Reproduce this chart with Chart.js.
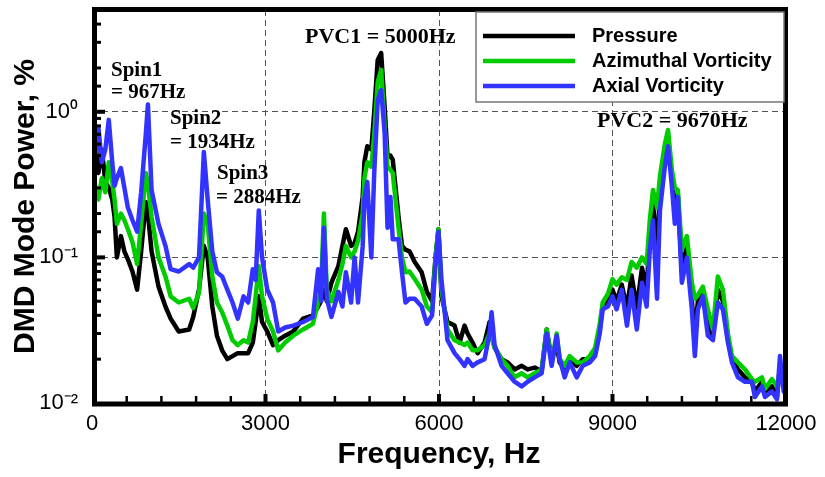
<!DOCTYPE html>
<html><head><meta charset="utf-8">
<script src="https://cdn.jsdelivr.net/npm/chart.js@4.4.1/dist/chart.umd.min.js"></script>
<style>html,body{margin:0;padding:0;background:#fff;}canvas{display:block;}</style>
</head><body>
<canvas id="c" width="825" height="477"></canvas>
<script>
const frequencyHz = [10,60,110,170,230,290,350,390,430,500,
 560,620,700,780,850,930,967,1030,1150,1270,
 1360,1500,1680,1750,1850,1934,2000,2080,2160,2250,
 2340,2430,2520,2620,2700,2780,2830,2884,2940,3030,
 3130,3220,3340,3480,3650,3820,3910,3960,4010,4060,
 4140,4260,4330,4390,4480,4540,4600,4680,4710,4760,
 4830,4880,4940,5000,5060,5110,5160,5200,5300,5360,
 5420,5490,5580,5700,5790,5880,5940,5990,6043,6147,
 6269,6355,6442,6494,6580,6667,6788,6874,6909,6961,
 7082,7186,7307,7429,7532,7654,7775,7861,7948,8035,
 8087,8173,8260,8381,8485,8606,8700,8780,8830,8920,
 9000,9070,9160,9250,9330,9420,9510,9590,9645,9700,
 9770,9820,9905,9960,10026,10078,10130,10199,10286,10372,
 10424,10476,10563,10649,10736,10822,10909,10996,11065,11169,
 11290,11411,11463,11584,11636,11757,11844,11896,11960];

const pressurePower = [0.45,0.62,0.38,0.55,0.33,0.3,0.25,0.19,0.1,0.14,
 0.11,0.097,0.08,0.06,0.11,0.24,0.2,0.11,0.063,0.046,
 0.038,0.031,0.032,0.039,0.06,0.12,0.1,0.046,0.029,0.023,
 0.02,0.021,0.022,0.022,0.022,0.026,0.036,0.054,0.036,0.031,
 0.025,0.027,0.029,0.031,0.038,0.04,0.046,0.05,0.06,0.05,
 0.067,0.087,0.12,0.156,0.12,0.125,0.15,0.26,0.45,0.58,
 0.55,1.0,2.27,2.53,1.08,0.49,0.5,0.47,0.19,0.12,
 0.113,0.11,0.093,0.079,0.058,0.05,0.1,0.156,0.054,0.036,
 0.034,0.026,0.034,0.03,0.026,0.022,0.026,0.036,0.03,0.024,
 0.02,0.019,0.017,0.018,0.017,0.0175,0.0165,0.032,0.02,0.025,
 0.019,0.017,0.02,0.018,0.02,0.02,0.022,0.032,0.046,0.05,
 0.06,0.05,0.065,0.045,0.075,0.045,0.085,0.06,0.14,0.24,
 0.1,0.3,0.52,0.68,0.35,0.22,0.27,0.08,0.12,0.05,
 0.03,0.05,0.058,0.035,0.029,0.06,0.05,0.028,0.02,0.017,
 0.015,0.014,0.012,0.014,0.012,0.013,0.011,0.018,0.013];

const azimuthalVorticityPower = [0.42,0.3,0.25,0.35,0.28,0.45,0.33,0.25,0.17,0.2,
 0.18,0.156,0.127,0.09,0.17,0.38,0.32,0.19,0.1,0.074,
 0.054,0.049,0.052,0.045,0.057,0.2,0.17,0.074,0.049,0.042,
 0.034,0.027,0.025,0.027,0.026,0.036,0.054,0.087,0.054,0.038,
 0.031,0.023,0.026,0.029,0.032,0.035,0.049,0.06,0.2,0.06,
 0.05,0.07,0.09,0.12,0.1,0.11,0.13,0.2,0.35,0.45,
 0.42,0.7,1.6,1.94,0.8,0.42,0.4,0.38,0.16,0.1,
 0.079,0.08,0.071,0.06,0.046,0.042,0.1,0.156,0.06,0.032,
 0.027,0.026,0.025,0.026,0.023,0.023,0.025,0.03,0.028,0.024,
 0.02,0.018,0.015,0.016,0.015,0.016,0.017,0.032,0.019,0.03,
 0.02,0.018,0.021,0.019,0.019,0.021,0.024,0.035,0.049,0.056,
 0.071,0.065,0.073,0.07,0.093,0.085,0.1,0.09,0.18,0.29,
 0.22,0.36,0.6,0.75,0.4,0.3,0.29,0.113,0.14,0.067,
 0.052,0.055,0.063,0.044,0.032,0.074,0.06,0.03,0.021,0.019,
 0.017,0.0146,0.014,0.015,0.0125,0.0146,0.013,0.015,0.014];

const axialVorticityPower = [0.85,0.5,0.78,0.45,0.55,0.88,0.45,0.31,0.35,0.41,
 0.3,0.22,0.18,0.15,0.28,0.7,1.12,0.29,0.17,0.12,
 0.083,0.08,0.09,0.085,0.1,0.53,0.25,0.11,0.079,0.074,
 0.06,0.049,0.038,0.054,0.049,0.083,0.07,0.21,0.1,0.06,
 0.049,0.031,0.033,0.034,0.036,0.039,0.083,0.05,0.16,0.052,
 0.039,0.058,0.046,0.079,0.049,0.1,0.049,0.119,0.25,0.33,
 0.1,0.38,1.2,1.41,0.72,0.16,0.26,0.133,0.133,0.079,
 0.049,0.052,0.052,0.046,0.035,0.04,0.09,0.15,0.07,0.027,
 0.022,0.02,0.018,0.02,0.018,0.019,0.02,0.03,0.042,0.025,
 0.018,0.016,0.014,0.013,0.014,0.015,0.016,0.03,0.018,0.029,
 0.02,0.015,0.019,0.015,0.018,0.019,0.021,0.03,0.044,0.046,
 0.054,0.044,0.06,0.034,0.06,0.032,0.067,0.046,0.113,0.18,
 0.052,0.21,0.42,0.58,0.31,0.17,0.26,0.067,0.1,0.044,
 0.021,0.044,0.054,0.029,0.027,0.049,0.044,0.026,0.019,0.015,
 0.014,0.014,0.011,0.013,0.011,0.012,0.0106,0.021,0.012];

const seriesNames = ['Pressure', 'Azimuthal Vorticity', 'Axial Vorticity'];
const xTickLabels = {0: '0', 3000: '3000', 6000: '6000', 9000: '9000', 12000: '12000'};
const yTickLabels = {'-2': '10\u207B\u00B2', '-1': '10\u207B\u00B9', '0': '10\u2070'};
const xGridValues = [3000, 6000, 9000];
const yGridValues = [0.1, 1];
const annotationTexts = [
  {text: 'Spin1', x: 111, y: 76, size: 21},
  {text: '= 967Hz', x: 111, y: 98, size: 21},
  {text: 'Spin2', x: 170, y: 124, size: 21},
  {text: '= 1934Hz', x: 170, y: 148, size: 21},
  {text: 'Spin3', x: 217, y: 179, size: 21},
  {text: '= 2884Hz', x: 216, y: 203, size: 21},
  {text: 'PVC1 = 5000Hz', x: 305, y: 43, size: 22},
  {text: 'PVC2 = 9670Hz', x: 597, y: 127, size: 22}
];

const colors = ['#000000', '#00cc00', '#3333ff'];
const FONT = '"Liberation Sans", Arial, sans-serif';
const SERIF = '"Liberation Serif", "Times New Roman", serif';

const isDecade = v => Math.abs(Math.log10(v) - Math.round(Math.log10(v))) < 1e-9;

const decor = {
  id: 'decor',
  afterDatasetsDraw(chart) {
    const {ctx, chartArea: a, scales: {x, y}} = chart;
    ctx.save();
    ctx.fillStyle = '#000';
    x.ticks.forEach(t => {
      if (t.value <= 0 || t.value >= 12000) return;
      const px = x.getPixelForValue(t.value);
      const major = t.value % 3000 === 0;
      const w = major ? 4 : 2.5, h = major ? 9 : 7;
      ctx.fillRect(px - w / 2, a.bottom - h, w, h);
    });
    y.ticks.forEach(t => {
      if (t.value <= 0.01 + 1e-12 || t.value >= 5 - 1e-9) return;
      const py = y.getPixelForValue(t.value);
      const major = isDecade(t.value);
      const h = major ? 4 : 3, w = major ? 13 : 9;
      ctx.fillRect(a.left, py - h / 2, w, h);
    });
    ctx.strokeStyle = '#000';
    ctx.lineWidth = 5;
    ctx.strokeRect(a.left + 2.5, a.top - 0.5, (a.right - 0.5) - (a.left + 2.5), (a.bottom + 1) - (a.top - 0.5));
    const bx = 476, by = a.top + 2, bw = a.right - 2 - bx, bh = 90;
    ctx.fillStyle = '#fff';
    ctx.fillRect(bx, by, bw, bh);
    ctx.strokeStyle = '#777';
    ctx.lineWidth = 1.5;
    ctx.strokeRect(bx, by, bw, bh);
    ctx.font = 'bold 20px ' + FONT;
    ctx.textBaseline = 'middle';
    ctx.textAlign = 'left';
    chart.data.datasets.forEach((ds, i) => {
      const ly = by + 24 + i * 25;
      ctx.strokeStyle = ds.borderColor;
      ctx.lineWidth = 4.5;
      ctx.beginPath();
      ctx.moveTo(bx + 7, ly);
      ctx.lineTo(bx + 99, ly);
      ctx.stroke();
      ctx.fillStyle = '#000';
      ctx.fillText(ds.label, bx + 116, ly);
    });
    ctx.textBaseline = 'alphabetic';
    annotationTexts.forEach(an => {
      ctx.font = 'bold ' + an.size + 'px ' + SERIF;
      ctx.fillStyle = '#000';
      ctx.fillText(an.text, an.x, an.y);
    });
    ctx.restore();
  }
};

new Chart(document.getElementById('c'), {
  type: 'line',
  data: {
    labels: frequencyHz,
    datasets: [
      {label: seriesNames[0], data: pressurePower, borderColor: colors[0], order: 3},
      {label: seriesNames[1], data: azimuthalVorticityPower, borderColor: colors[1], order: 2},
      {label: seriesNames[2], data: axialVorticityPower, borderColor: colors[2], order: 1}
    ]
  },
  options: {
    responsive: false,
    animation: false,
    devicePixelRatio: 1,
    layout: {padding: {top: 10, right: 39, left: 0, bottom: 0}},
    elements: {
      line: {borderWidth: 4.5, tension: 0, fill: false, borderJoinStyle: 'round', borderCapStyle: 'round'},
      point: {radius: 0, hoverRadius: 0}
    },
    plugins: {legend: {display: false}, tooltip: {enabled: false}},
    events: [],
    scales: {
      x: {
        type: 'linear', min: 0, max: 12000,
        afterFit: s => { s.height = 74; s.paddingLeft = 0; s.paddingRight = 0; },
        ticks: {
          stepSize: 600, autoSkip: false, maxRotation: 0, padding: 8,
          color: '#000', font: {family: FONT, size: 22},
          callback: v => (xTickLabels[v] !== undefined ? xTickLabels[v] : '')
        },
        grid: {
          drawTicks: false, lineWidth: 1,
          color: c => (c.tick && xGridValues.includes(c.tick.value)) ? '#555' : 'rgba(0,0,0,0)'
        },
        border: {display: false, dash: [6, 4]},
        title: {display: true, text: 'Frequency, Hz', color: '#000',
          font: {family: FONT, size: 30, weight: 'bold'}, padding: {top: 0, bottom: 4}}
      },
      y: {
        type: 'logarithmic', min: 0.01, max: 5,
        afterFit: s => { s.width = 92; s.paddingTop = 0; s.paddingBottom = 0; },
        ticks: {
          autoSkip: false, padding: 14, color: '#000', font: {family: FONT, size: 22},
          callback: v => isDecade(v) ? (yTickLabels[String(Math.round(Math.log10(v)))] || '') : ''
        },
        grid: {
          drawTicks: false, lineWidth: 1,
          color: c => (c.tick && yGridValues.some(g => Math.abs(c.tick.value - g) < 1e-9)) ? '#555' : 'rgba(0,0,0,0)'
        },
        border: {display: false, dash: [6, 4]},
        title: {display: true, text: 'DMD Mode Power, %', color: '#000',
          font: {family: FONT, size: 30, weight: 'bold'}, padding: {top: 8, bottom: 0}}
      }
    }
  },
  plugins: [decor]
});
</script>
</body></html>
